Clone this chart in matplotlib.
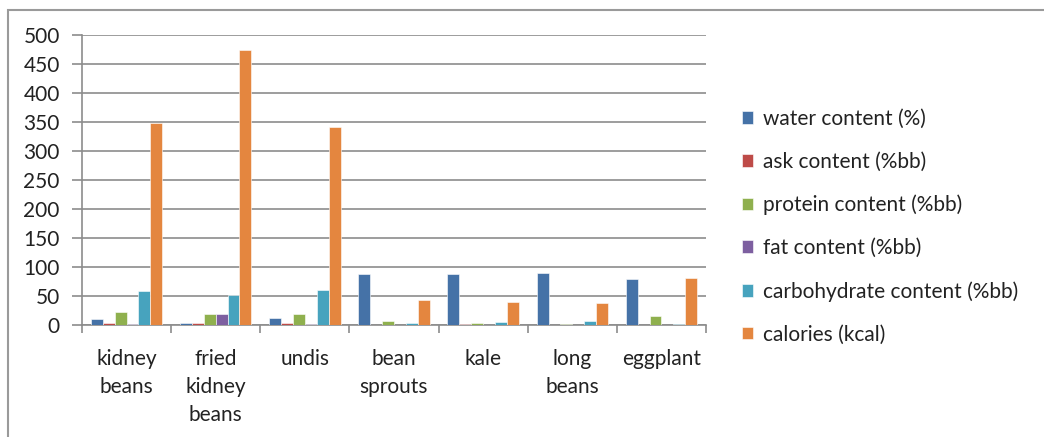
import matplotlib
matplotlib.use("Agg")
import matplotlib.pyplot as plt
import numpy as np
from matplotlib.patches import Rectangle

categories = ["kidney\nbeans", "fried\nkidney\nbeans", "undis", "bean\nsprouts",
              "kale", "long\nbeans", "eggplant"]
series_names = ["water content (%)", "ask content (%bb)", "protein content (%bb)",
                "fat content (%bb)", "carbohydrate content (%bb)", "calories (kcal)"]
water = [10.5, 3, 12, 87.5, 88, 89, 78.5]
ash = [3, 3, 3, 0.5, 1, 0.5, 0.5]
protein = [22, 19.5, 19.5, 6.5, 3, 2, 16]
fat = [1, 19.5, 1, 0.3, 0.5, 0.3, 0.3]
carbohydrate = [59, 52, 60, 4, 5, 6.5, 1]
calories = [348, 474, 341, 43.5, 39, 38.5, 81]
colors = ["#4572A7", "#BE4B48", "#8FB04E", "#7D5FA0", "#47A3BE", "#E4863F"]

plt.rcParams["font.family"] = ["Lato", "DejaVu Sans"]

fig = plt.figure(figsize=(10.44, 4.37), dpi=100)
ax = fig.add_axes([82 / 1044, 1 - 325 / 437, 624 / 1044, 290 / 437])

values = [water, ash, protein, fat, carbohydrate, calories]
bw = 1 / 7.5
x = np.arange(len(categories))
for i, (vals, col, name) in enumerate(zip(values, colors, series_names)):
    ax.bar(x - 3 * bw + (i + 0.5) * bw, vals, width=bw, color=col,
           edgecolor="white", linewidth=0.4, label=name, zorder=3)

ax.set_xlim(-0.5, len(categories) - 0.5)
ax.set_ylim(0, 500)
ax.set_yticks(np.arange(0, 501, 50))
ax.yaxis.grid(True, color="#8c8c8c", linewidth=1.2, zorder=0)
ax.set_xticks(np.arange(-0.5, len(categories), 1), minor=False)
ax.set_xticklabels([])
ax.set_xticks(x, minor=True)
ax.set_xticklabels(categories, minor=True, fontsize=15, color="#222222",
                   linespacing=1.5, va="top")
ax.tick_params(axis="x", which="minor", length=0, pad=17)
ax.tick_params(axis="x", which="major", length=6, width=1.2, color="#8c8c8c", direction="out")
ax.tick_params(axis="y", length=7, width=1.2, color="#8c8c8c", labelsize=15,
               labelcolor="#222222", pad=9)
for s in ["top", "right"]:
    ax.spines[s].set_visible(False)
for s in ["left", "bottom"]:
    ax.spines[s].set_color("#8c8c8c")
    ax.spines[s].set_linewidth(1.2)

handles, labels = ax.get_legend_handles_labels()
leg = fig.legend(handles, labels, loc="upper left", bbox_to_anchor=(723 / 1044, 1 - 90 / 437),
                 frameon=False, fontsize=15, handlelength=0.55, handleheight=0.55,
                 handletextpad=0.45, labelspacing=1.1, labelcolor="#222222")

fig.patches.append(Rectangle((8 / 1044, -0.1), 1.2, 1 - 10 / 437 + 0.1,
                             transform=fig.transFigure, fill=False,
                             edgecolor="#9a9a9a", linewidth=1.5))

fig.savefig("out.png", dpi=100)
